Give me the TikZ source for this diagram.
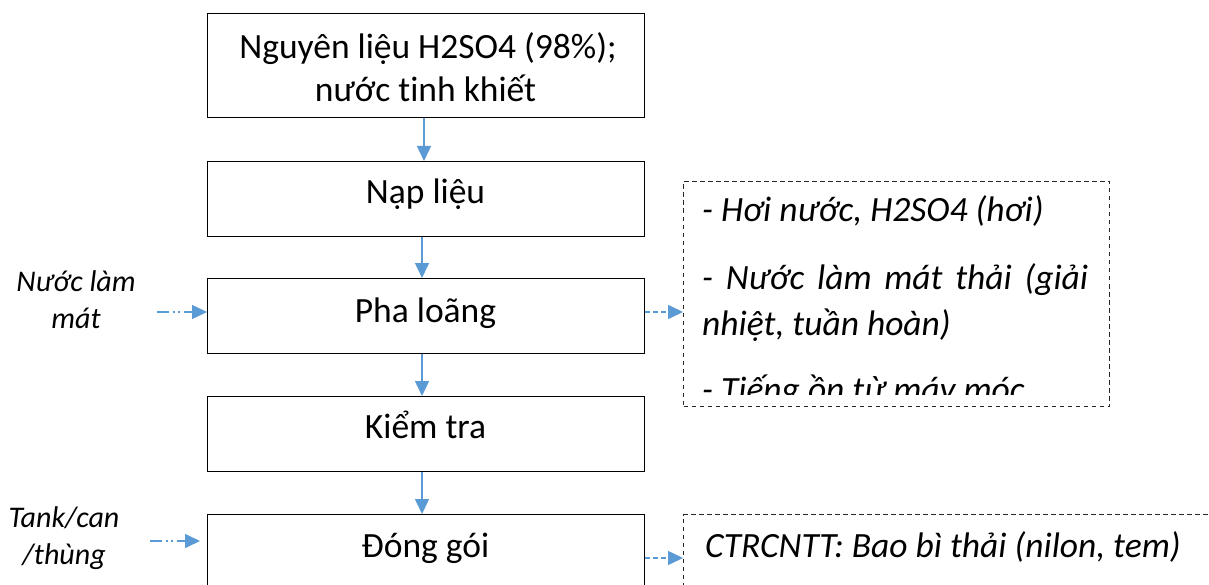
\documentclass[tikz,border=0pt]{standalone}
\usepackage{fontspec}
\setmainfont{Carlito}[Ligatures={NoCommon}]
\usetikzlibrary{arrows.meta}
\definecolor{arrowblue}{HTML}{5B9BD5}
\begin{document}
\begin{tikzpicture}[x=1pt,y=-1pt,
  procbox/.style={draw=black,line width=1.3pt,minimum width=437pt,inner sep=0pt,anchor=north west,rectangle},
  wastebox/.style={draw=black!85,line width=1pt,dash pattern=on 4.5pt off 3.5pt,inner sep=0pt,anchor=north west,rectangle},
  boxtext/.style={font=\fontsize{35.5}{43}\selectfont,anchor=base,inner sep=0pt},
  wastetext/.style={font=\fontsize{35.5}{43}\selectfont\itshape,anchor=base west,inner sep=0pt},
  sidetext/.style={font=\fontsize{30}{37}\selectfont\itshape,anchor=base,inner sep=0pt},
  flow/.style={draw=arrowblue,line width=1.5pt,-{Triangle[length=15pt,width=14pt]}},
  feed/.style={flow,dash pattern=on 12pt off 3.5pt on 2.5pt off 2.5pt on 2.5pt off 3.5pt},
  emit/.style={flow,dash pattern=on 5pt off 3pt}]
\useasboundingbox (0,0) rectangle (1209,585);
\clip (0,0) rectangle (1209,585);

% process boxes
\node[procbox,minimum height=104pt] (b1) at (207,13) {};
\node[procbox,minimum height=75pt] (b2) at (207,161) {};
\node[procbox,minimum height=75pt] (b3) at (207,278) {};
\node[procbox,minimum height=75pt] (b4) at (207,396) {};
\node[procbox,minimum height=90pt] (b5) at (207,514) {};

\node[boxtext] (t1a) at (428,59) {Nguyên liệu H2SO4 (98\%);};
\node[boxtext] (t1b) at (425.5,102) {nước tinh khiết};
\node[boxtext] (t2) at (425.5,204) {Nạp liệu};
\node[boxtext] (t3) at (425.5,322) {Pha loãng};
\node[boxtext] (t4) at (425.5,438) {Kiểm tra};
\node[boxtext] (t5) at (425.5,557) {Đóng gói};

% waste boxes
\node[wastebox,minimum width=426pt,minimum height=225pt] (d1) at (683,181) {};
\node[wastebox,minimum width=600pt,minimum height=100pt] (d2) at (683,514) {};

\begin{scope}
\clip (684,182) rectangle (1108,394);
\node[wastetext] (w1) at (702,222) {- Hơi nước, H2SO4 (hơi)};
\node[wastetext] (w2) at (702,289) {\makebox[386pt][s]{- Nước làm mát thải (giải}};
\node[wastetext] (w3) at (702,335) {nhiệt, tuần hoàn)};
\node[wastetext] (w4) at (702,401) {- Tiếng ồn từ máy móc};
\end{scope}
\node[wastetext] (w5) at (705,557) {CTRCNTT: Bao bì thải (nilon, tem)};

% side inputs
\node[sidetext] (s1a) at (76,291) {Nước làm};
\node[sidetext] (s1b) at (76,328) {mát};
\node[sidetext] (s2a) at (64,527) {Tank/can};
\node[sidetext] (s2b) at (64,564) {/thùng};
\coordinate (f1) at (157,312);
\coordinate (f2) at (150,541);

% main flow
\draw[flow] (b1.south -| 424,0) -- (b2.north -| 424,0);
\draw[flow] (b2.south -| 422,0) -- (b3.north -| 422,0);
\draw[flow] (b3.south -| 422,0) -- (b4.north -| 422,0);
\draw[flow] (b4.south -| 422,0) -- (b5.north -| 422,0);

% inputs
\draw[feed] (f1) -- (f1 -| b3.west);
\draw[feed,shorten >=7pt] (f2) -- (f2 -| b5.west);

% emissions
\draw[emit] (b3.east |- f1) -- (d1.west |- f1);
\draw[emit] (b5.east |- 0,558) -- (d2.west |- 0,558);
\end{tikzpicture}
\end{document}
